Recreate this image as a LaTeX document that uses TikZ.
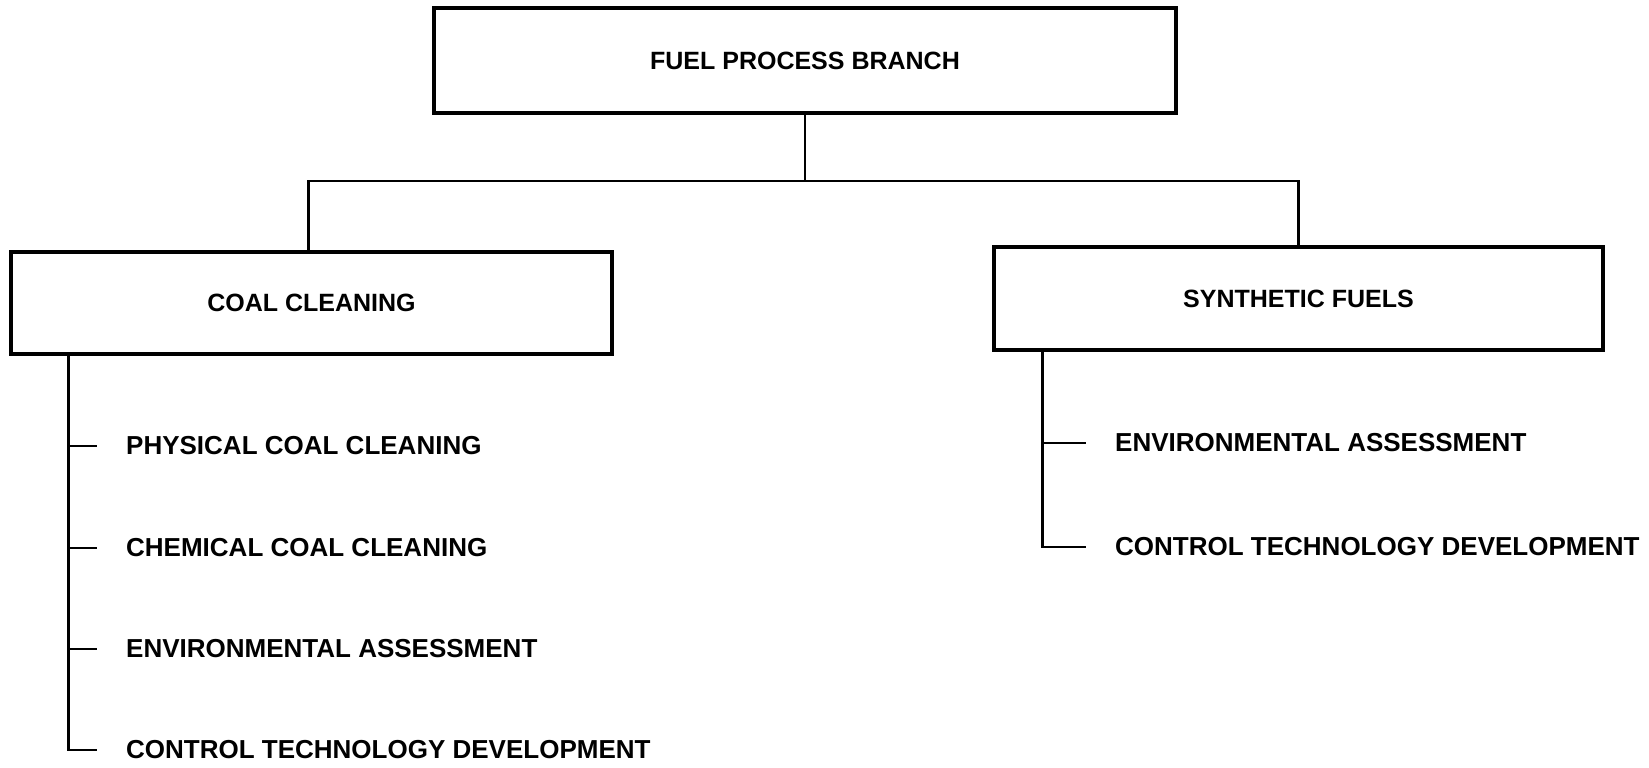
\documentclass[tikz,border=0pt]{standalone}
\usepackage{fontspec}
\setmainfont{Liberation Sans}
\usetikzlibrary{positioning, calc}
\colorlet{drawColor}{black}
\tikzstyle{branchBox}=[rectangle, draw=drawColor, line width=3.2pt, align=center,
font=\fontsize{25}{30}\selectfont\bfseries]
\tikzstyle{leaf}=[anchor=west, inner xsep=29pt, inner ysep=0pt,
font=\fontsize{26}{31}\selectfont\bfseries]
\tikzstyle{link}=[draw=drawColor, line width=2.6pt]

\begin{document}
\begin{tikzpicture}[x=1pt, y=-1pt]
      \useasboundingbox (0,0) rectangle (1649,768);
      % boxes
      \node(fpb) [branchBox, minimum width=742pt, minimum height=105pt]
      at (805,60.5) {FUEL PROCESS BRANCH};
      \node(coal) [branchBox, minimum width=601pt, minimum height=102pt]
      at (311.5,303) {COAL CLEANING};
      \node(syn) [branchBox, minimum width=609pt, minimum height=103pt]
      at (1298.5,298.5) {SYNTHETIC FUELS};
      \coordinate(jn) at (805,181);
      \draw [link] (fpb.south) -- (jn);
      \draw [link] ($(coal.north)+(-3,0)$) |- (jn) -| (syn.north);
      % coal cleaning items
      \node(cc1) [leaf] at (97,446) {PHYSICAL COAL CLEANING};
      \node(cc2) [leaf] at (97,548) {CHEMICAL COAL CLEANING};
      \node(cc3) [leaf] at (97,649) {ENVIRONMENTAL ASSESSMENT};
      \node(cc4) [leaf] at (97,750) {CONTROL TECHNOLOGY DEVELOPMENT};
      \coordinate(cs) at ($(coal.south west)+(59,0)$);
      \draw [link] (cs) |- (cc4.west);
      \foreach \n in {cc1,cc2,cc3}
        \draw [link] (cs |- \n.west) -- (\n.west);
      % synthetic fuels items
      \node(sf1) [leaf] at (1086,443) {ENVIRONMENTAL ASSESSMENT};
      \node(sf2) [leaf] at (1086,547) {CONTROL TECHNOLOGY DEVELOPMENT};
      \coordinate(ss) at ($(syn.south west)+(50,0)$);
      \draw [link] (ss) |- (sf2.west);
      \draw [link] (ss |- sf1.west) -- (sf1.west);
    \end{tikzpicture}
\end{document}
